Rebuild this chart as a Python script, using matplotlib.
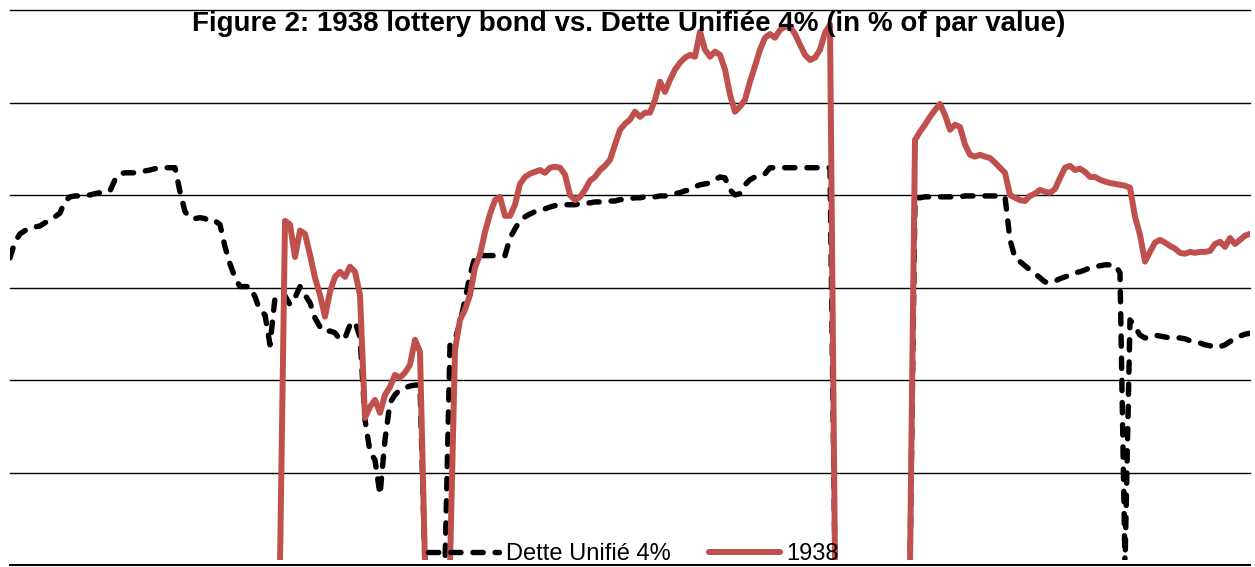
import numpy as np
import matplotlib
matplotlib.use('Agg')
import matplotlib.pyplot as plt

# prices in % of par, one observation per step; breaks in the source series are stored as 0
dette = [
    66.4, 69.9, 71.6, 72.3, 72.9, 73.1, 73.3, 74.0, 74.6, 75.3,
    76.1, 78.7, 79.6, 79.8, 79.8, 80.0, 80.0, 80.3, 80.5, 80.7,
    80.9, 83.3, 84.6, 84.8, 84.8, 84.8, 85.0, 85.2, 85.4, 85.7,
    85.9, 85.9, 85.9, 85.9, 80.7, 76.4, 75.1, 74.9, 75.1, 74.9,
    74.2, 74.4, 73.6, 68.8, 65.1, 62.1, 60.2, 60.2, 60.2, 58.0,
    55.0, 54.1, 47.6, 57.8, 58.4, 58.2, 56.3, 57.8, 60.2, 58.4,
    56.7, 53.4, 51.5, 50.4, 50.6, 50.2, 48.7, 49.1, 51.9, 52.6,
    49.3, 31.4, 24.5, 22.7, 15.2, 27.1, 35.1, 36.8, 37.9, 38.3,
    38.7, 38.9, 38.9, 0, 0, 0, 0, 0, 47.6, 48.7,
    52.4, 57.3, 62.7, 66.6, 66.9, 66.9, 66.9, 66.9, 66.9, 66.9,
    70.7, 72.7, 74.4, 75.3, 75.9, 76.4, 76.6, 77.0, 77.4, 77.7,
    77.7, 77.9, 77.9, 77.9, 78.1, 78.3, 78.3, 78.5, 78.5, 78.5,
    78.7, 78.7, 79.0, 79.0, 79.2, 79.4, 79.4, 79.6, 79.6, 79.6,
    79.8, 79.8, 80.0, 80.3, 80.5, 80.9, 81.1, 81.8, 82.2, 82.4,
    82.6, 83.3, 83.9, 83.7, 81.1, 80.0, 80.3, 82.2, 83.3, 83.9,
    84.1, 84.6, 85.9, 85.9, 85.9, 85.9, 85.9, 85.9, 85.9, 85.9,
    85.9, 85.9, 85.9, 85.9, 85.9, 0, 0, 0, 0, 0,
    0, 0, 0, 0, 0, 0, 0, 0, 0, 0,
    0, 79.4, 79.4, 79.6, 79.6, 79.6, 79.6, 79.6, 79.6, 79.6,
    79.6, 79.8, 79.8, 79.8, 79.8, 79.8, 79.8, 79.8, 79.8, 79.6,
    70.3, 66.4, 65.6, 64.7, 63.8, 63.0, 62.1, 61.2, 61.0, 61.4,
    61.9, 62.3, 62.7, 63.2, 63.4, 63.8, 64.3, 64.5, 64.7, 64.9,
    64.9, 64.9, 63.2, 0, 53.0, 51.5, 49.7, 49.1, 49.3, 49.7,
    49.5, 49.3, 49.1, 49.1, 49.1, 48.9, 48.5, 48.3, 48.0, 47.6,
    47.4, 47.0, 47.2, 47.6, 48.3, 49.1, 49.5, 49.9, 50.1,
]
lottery = [
    0, 0, 0, 0, 0, 0, 0, 0, 0, 0,
    0, 0, 0, 0, 0, 0, 0, 0, 0, 0,
    0, 0, 0, 0, 0, 0, 0, 0, 0, 0,
    0, 0, 0, 0, 0, 0, 0, 0, 0, 0,
    0, 0, 0, 0, 0, 0, 0, 0, 0, 0,
    0, 0, 0, 0, 0, 74.4, 73.6, 66.6, 72.3, 71.6,
    67.1, 62.1, 58.4, 53.7, 59.1, 62.3, 63.4, 62.3, 64.5, 63.4,
    58.4, 31.8, 34.2, 35.7, 32.9, 36.8, 38.5, 41.1, 40.5, 41.6,
    43.3, 48.7, 46.1, 0, 0, 0, 0, 0, 0, 46.5,
    53.0, 55.2, 58.4, 64.3, 67.1, 72.0, 75.9, 78.9, 79.6, 75.5,
    75.5, 77.9, 82.4, 83.9, 84.6, 85.0, 85.4, 84.8, 85.9, 86.1,
    85.9, 84.4, 80.0, 78.9, 79.6, 81.1, 83.1, 83.9, 85.4, 86.3,
    87.6, 90.9, 94.1, 95.4, 96.3, 98.0, 96.9, 97.8, 97.8, 100.6,
    104.5, 102.3, 104.9, 107.1, 108.6, 109.7, 110.3, 109.9, 115.3, 111.4,
    109.9, 111.0, 110.3, 107.1, 101.7, 98.0, 99.1, 100.6, 104.5, 107.9,
    111.4, 114.0, 114.8, 114.0, 115.7, 116.4, 116.4, 114.8, 112.5, 110.3,
    109.2, 109.7, 111.4, 115.1, 116.8, 0, 0, 0, 0, 0,
    0, 0, 0, 0, 0, 0, 0, 0, 0, 0,
    0, 91.9, 93.7, 95.2, 96.9, 98.4, 99.7, 97.3, 94.1, 95.2,
    94.7, 90.9, 88.7, 88.3, 88.7, 88.3, 88.0, 87.0, 85.9, 84.8,
    80.0, 79.4, 78.9, 78.7, 79.8, 80.3, 81.1, 80.7, 80.5, 81.3,
    83.7, 85.9, 86.3, 85.4, 85.7, 85.0, 83.9, 83.9, 83.3, 82.9,
    82.6, 82.4, 82.2, 82.0, 81.6, 75.3, 71.4, 65.6, 67.7, 69.7,
    70.3, 69.7, 69.0, 68.4, 67.5, 67.3, 67.7, 67.5, 67.7, 67.7,
    67.9, 69.4, 69.9, 68.8, 70.7, 69.4, 70.3, 71.2, 71.6,
]
labels = ['Dette Unifié 4%', '1938']
title = 'Figure 2: 1938 lottery bond vs. Dette Unifiée 4% (in % of par value)'
grid_levels = [20, 40, 60, 80, 100, 120]

plt.rcParams['font.family'] = ['Liberation Sans', 'DejaVu Sans']

fig = plt.figure(figsize=(12.55, 5.67), dpi=100)
ax = fig.add_axes([10 / 1255, 2 / 567, 1240 / 1255, 555 / 567])

x = np.arange(len(dette))
ax.plot(x, dette, color='black', lw=3.9, ls=(0, (1.9, 2.2)),
        dash_capstyle='round', dash_joinstyle='round', label=labels[0], zorder=2)
ax.plot(x, lottery, color='#C0504D', lw=4.3, solid_capstyle='round',
        solid_joinstyle='round', label=labels[1], zorder=2.1)

# zero values sit under the category axis, hide them like the original
ax.axhspan(0, 1.0, color='white', lw=0, zorder=2.5)

for g in grid_levels:
    ax.axhline(g, color='black', lw=1.0, zorder=1, clip_on=False)

ax.set_xlim(0, len(dette) - 1)
ax.set_ylim(0, 120)
ax.set_xticks([])
ax.set_yticks([])
for s in ['left', 'right', 'top']:
    ax.spines[s].set_visible(False)
ax.spines['bottom'].set_linewidth(1.5)
ax.spines['bottom'].set_zorder(3)

leg = ax.legend(loc='lower center', bbox_to_anchor=(0.503, 0.0), ncol=2, frameon=False,
                fontsize=17, handlelength=3.0, handletextpad=0.3, columnspacing=1.6,
                borderaxespad=0.0, borderpad=0.0)
leg.set_zorder(5)

fig.text(0.501, 1 - 24 / 567, title, ha='center', va='center',
         fontsize=20, fontweight='bold', zorder=10)

fig.savefig('out.png', dpi=100, facecolor='white')
